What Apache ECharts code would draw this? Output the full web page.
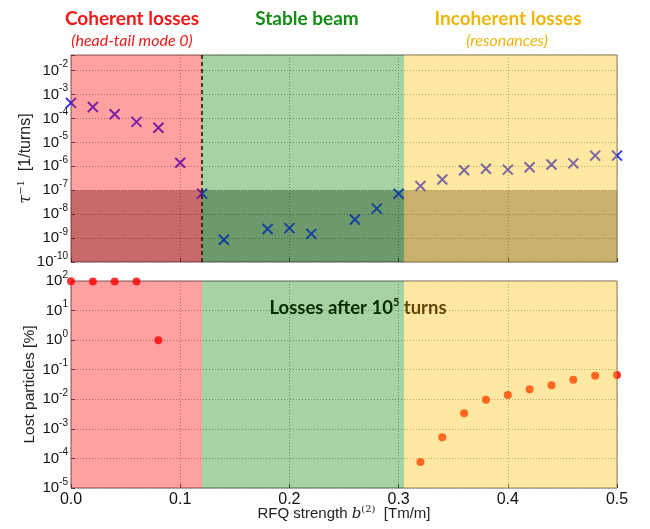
<!DOCTYPE html>
<html>
<head>
<meta charset="utf-8">
<script src="https://cdn.jsdelivr.net/npm/echarts@6/dist/echarts.min.js"></script>
<style>
  html, body { margin: 0; padding: 0; background: #fff; }
  #main { width: 650px; height: 529px; }
</style>
</head>
<body>
<div id="main"></div>
<script>
// growth rate of the instability vs RFQ strength (top panel)
var rateStrength = [0, 0.02, 0.04, 0.06, 0.08, 0.10, 0.12, 0.14, 0.18, 0.20, 0.22, 0.26,
    0.28, 0.30, 0.32, 0.34, 0.36, 0.38, 0.40, 0.42, 0.44, 0.46, 0.48, 0.50];
var growthRate = [4.5e-4, 3.0e-4, 1.5e-4, 7.2e-5, 4.1e-5, 1.4e-6, 7.2e-8, 8.5e-10, 2.4e-9, 2.6e-9,
    1.5e-9, 6.0e-9, 1.7e-8, 7.1e-8, 1.5e-7, 2.8e-7, 6.8e-7, 7.9e-7, 7.3e-7, 9.1e-7, 1.2e-6,
    1.33e-6, 2.8e-6, 2.8e-6];

// lost particles after 1e5 turns (bottom panel)
var lossStrength = [0, 0.02, 0.04, 0.06, 0.08, 0.32, 0.34, 0.36, 0.38, 0.40, 0.42, 0.44, 0.46, 0.48, 0.50];
var lostPercent = [98, 96, 96, 96, 1.0, 7.6e-5, 5.2e-4, 3.4e-3, 9.7e-3, 1.4e-2, 2.2e-2, 3.0e-2,
    4.6e-2, 6.3e-2, 6.6e-2];

// regime limits
var regionEdges = [0, 0.12, 0.305, 0.5];
var regionFills = ['rgba(255,0,0,0.37)', 'rgba(0,128,0,0.35)', 'rgba(255,192,0,0.37)'];
var rateThreshold = 1e-7;
var rateRange = [1e-10, 0.045];
var lossRange = [1e-5, 100];

var labelFont = 'Liberation Sans, Arial, sans-serif';
var headFont = 'Lato, Calibri, sans-serif';

function pairs(xs, ys) {
    var out = [];
    for (var i = 0; i < xs.length; i++) out.push([xs[i], ys[i]]);
    return out;
}

function regionAreas() {
    var areas = [];
    for (var i = 0; i < regionFills.length; i++) {
        areas.push([
            {xAxis: regionEdges[i], itemStyle: {color: regionFills[i]}},
            {xAxis: regionEdges[i + 1]}
        ]);
    }
    return areas;
}

// 10^n tick labels
function powLabel(v) {
    var e = Math.log10(v);
    if (Math.abs(e - Math.round(e)) > 1e-6) return '';
    return '{b|10}{s|' + Math.round(e) + '}';
}

var tickRich = {
    b: {fontFamily: labelFont, fontSize: 15, color: '#111', lineHeight: 22},
    s: {fontFamily: labelFont, fontSize: 10, color: '#111', lineHeight: 10, verticalAlign: 'top'}
};

var gridLine = {show: true, lineStyle: {color: '#9a9a9a', type: [1, 2], width: 1}};
var tickStyle = {show: true, inside: true, length: 4, lineStyle: {color: '#444'}};

function xAxisOf(idx, withLabels) {
    return {
        type: 'value', gridIndex: idx, min: 0, max: 0.5, interval: 0.1,
        axisLine: {show: false},
        axisTick: tickStyle,
        splitLine: gridLine,
        axisLabel: {
            show: withLabels, margin: 4, fontFamily: labelFont, fontSize: 16, color: '#111',
            formatter: function (v) { return v.toFixed(1); }
        },
        name: withLabels ? '{n|RFQ strength }{i|b}{s|(2)}{n|  [Tm/m]}' : '',
        nameLocation: 'middle', nameGap: 16, nameMoveOverlap: false,
        nameTextStyle: {
            rich: {
                n: {fontFamily: labelFont, fontSize: 15, color: '#222', lineHeight: 20},
                i: {fontFamily: 'DejaVu Serif', fontStyle: 'italic', fontSize: 15, color: '#222', lineHeight: 20},
                s: {fontFamily: 'DejaVu Serif', fontSize: 10, color: '#222', lineHeight: 10, verticalAlign: 'top'}
            }
        }
    };
}

function yAxisOf(idx, range, name, gap, rich) {
    return {
        type: 'log', logBase: 10, gridIndex: idx, min: range[0], max: range[1], splitNumber: 10,
        axisLine: {show: false},
        axisTick: tickStyle,
        splitLine: gridLine,
        axisLabel: {margin: 3, formatter: powLabel, rich: tickRich},
        name: name, nameLocation: 'middle', nameRotate: 90, nameGap: gap, nameMoveOverlap: false,
        nameTextStyle: {rich: rich}
    };
}

var myChart = echarts.init(document.getElementById('main'));

var option = {
    animation: false,
    backgroundColor: '#fff',
    grid: [
        {left: 71, right: 33, top: 55, height: 207, show: true, borderColor: '#666', borderWidth: 1},
        {left: 71, right: 33, top: 281, height: 207, show: true, borderColor: '#666', borderWidth: 1}
    ],
    xAxis: [xAxisOf(0, false), xAxisOf(1, true)],
    yAxis: [
        yAxisOf(0, rateRange, '{t|τ}{s|−1}{n|  [1/turns]}', 35, {
            t: {fontFamily: 'DejaVu Serif', fontStyle: 'italic', fontSize: 16, color: '#222', lineHeight: 20},
            s: {fontFamily: 'DejaVu Serif', fontSize: 10, color: '#222', lineHeight: 10, verticalAlign: 'top'},
            n: {fontFamily: labelFont, fontSize: 16, color: '#222', lineHeight: 20}
        }),
        yAxisOf(1, lossRange, '{n|Lost particles [%]}', 31, {
            n: {fontFamily: labelFont, fontSize: 15.5, color: '#222', lineHeight: 20}
        })
    ],
    graphic: [
        {type: 'text', x: 132, y: 19, z: 10, style: {text: 'Coherent losses', fill: '#f21818',
            font: 'bold 19px ' + headFont, textAlign: 'center', textVerticalAlign: 'middle'}},
        {type: 'text', x: 132, y: 41, z: 10, style: {text: '(head-tail mode 0)', fill: '#f21818',
            font: 'italic 16px ' + headFont, textAlign: 'center', textVerticalAlign: 'middle'}},
        {type: 'text', x: 307, y: 19, z: 10, style: {text: 'Stable beam', fill: '#148c14',
            font: 'bold 19px ' + headFont, textAlign: 'center', textVerticalAlign: 'middle'}},
        {type: 'text', x: 508, y: 19, z: 10, style: {text: 'Incoherent losses', fill: '#efb50a',
            font: 'bold 19px ' + headFont, textAlign: 'center', textVerticalAlign: 'middle'}},
        {type: 'text', x: 507, y: 41, z: 10, style: {text: '(resonances)', fill: '#efb50a',
            font: 'italic 16px ' + headFont, textAlign: 'center', textVerticalAlign: 'middle'}},
        // drawn below the coloured bands, like the original
        {type: 'text', x: 358, y: 308, z: 2, style: {
            text: '{a|Losses after 10}{s|5}{a| turns}',
            textAlign: 'center', textVerticalAlign: 'middle',
            rich: {
                a: {font: 'bold 18.5px ' + headFont, fill: '#000', lineHeight: 22},
                s: {font: 'bold 11px ' + headFont, fill: '#000', lineHeight: 11, verticalAlign: 'top'}
            }
        }}
    ],
    series: [
        {   // dark band below threshold + dashed limit
            type: 'scatter', xAxisIndex: 0, yAxisIndex: 0, data: [], z: 1,
            markArea: {silent: true, z: 1, data: [[
                {yAxis: rateRange[0], itemStyle: {color: 'rgba(0,0,0,0.34)'}},
                {yAxis: rateThreshold}
            ]]},
            markLine: {silent: true, z: 1, symbol: ['none', 'none'], label: {show: false},
                lineStyle: {color: '#000', type: [4, 3], width: 1.6},
                data: [{xAxis: regionEdges[1]}]}
        },
        {
            name: 'growth rate', type: 'scatter', xAxisIndex: 0, yAxisIndex: 0, z: 2,
            symbol: 'path://M0,0 L10,10 M10,0 L0,10', symbolSize: 10,
            itemStyle: {color: 'rgba(0,0,255,0)', borderColor: '#0000ff', borderWidth: 2},
            data: pairs(rateStrength, growthRate)
        },
        {
            type: 'scatter', xAxisIndex: 0, yAxisIndex: 0, data: [], z: 3,
            markArea: {silent: true, z: 3, data: regionAreas()}
        },
        {
            name: 'losses', type: 'scatter', xAxisIndex: 1, yAxisIndex: 1, z: 2,
            symbol: 'circle', symbolSize: 8,
            itemStyle: {color: '#ff0000'},
            data: pairs(lossStrength, lostPercent)
        },
        {
            type: 'scatter', xAxisIndex: 1, yAxisIndex: 1, data: [], z: 3,
            markArea: {silent: true, z: 3, data: regionAreas()}
        }
    ]
};
myChart.setOption(option);
</script>
</body>
</html>
